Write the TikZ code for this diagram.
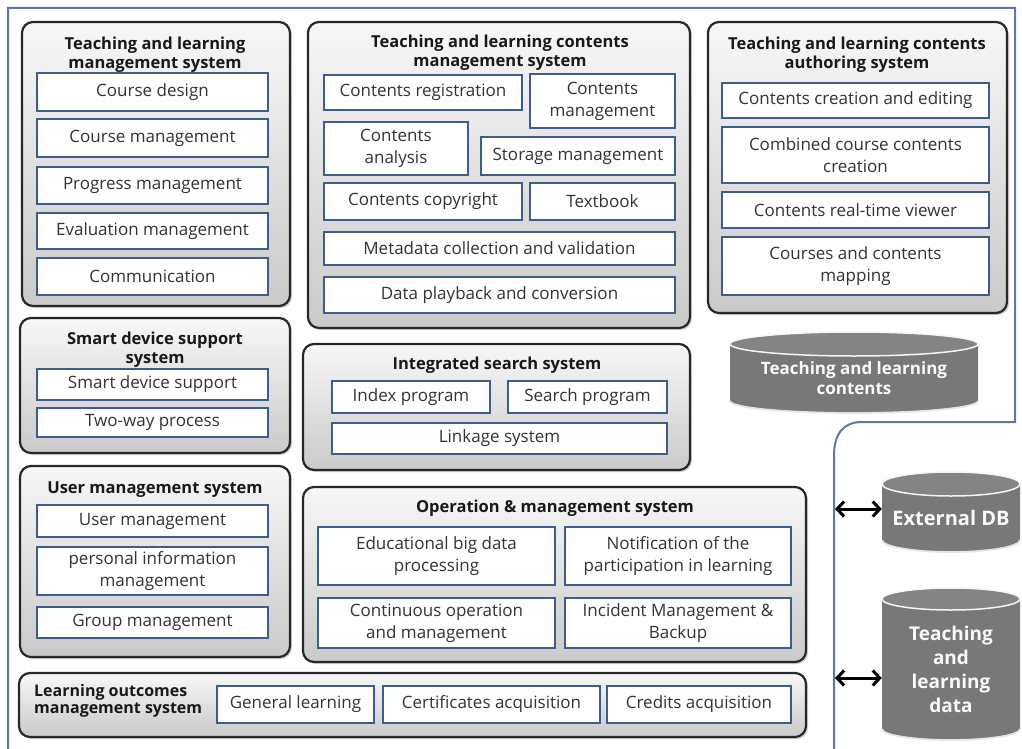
\documentclass[tikz,border=0pt]{standalone}
\usepackage{fontspec}
\setmainfont{Open Sans}
\usetikzlibrary{shadows,arrows.meta}
\definecolor{frameblue}{RGB}{92,122,162}
\definecolor{boxblue}{RGB}{62,92,140}
\definecolor{panelrim}{RGB}{40,40,40}
\definecolor{drumbody}{RGB}{120,120,120}
\definecolor{drumtop}{RGB}{132,132,132}
\tikzset{
  panel/.style={draw=panelrim, line width=2.2pt, rounded corners=11pt,
    top color=gray!6, middle color=gray!14, bottom color=gray!42,
    drop shadow={opacity=0.35, shadow xshift=2pt, shadow yshift=-2pt},
    inner sep=0pt},
  ptitle/.style={font=\bfseries\fontsize{16.5}{19}\selectfont, align=center,
    inner sep=0pt, text=black!90},
  ibox/.style={draw=boxblue, line width=1.5pt, fill=white, inner sep=0pt,
    align=center, font=\fontsize{17}{22}\selectfont, text=black!80,
    drop shadow={opacity=0.25, shadow xshift=1.2pt, shadow yshift=-1.2pt}},
  drumtext/.style={font=\bfseries\fontsize{17}{20}\selectfont, text=white!95!gray,
    align=center, inner sep=0pt},
  frame/.style={draw=frameblue, line width=2pt},
  link/.style={line width=3pt,
    {Straight Barb[length=7pt,width=15pt]}-{Straight Barb[length=7pt,width=15pt]}}
}
% item box from its corners: name, x1, y1, x2, y2, text (y measured downwards)
\newcommand\cbox[6]{\node[ibox, minimum width={(#4-#2)*1pt},
  minimum height={(#5-#3)*1pt}] (#1) at ({(#2+#4)/2},{-(#3+#5)/2}) {#6};}
% system panel from its corners
\newcommand\cpanel[5]{\node[panel, minimum width={(#4-#2)*1pt},
  minimum height={(#5-#3)*1pt}] (#1) at ({(#2+#4)/2},{-(#3+#5)/2}) {};}
% database drum: [text options], name, x1, ytop, x2, ybottom, ry, text centre y, text
\newcommand\cdrum[9][]{%
  \fill[drumbody] ({#3},{-(#4+#7)}) -- ({#3},{-(#6-#7)})
    arc[start angle=180, end angle=360, x radius={(#5-#3)/2}, y radius=#7]
    -- ({#5},{-(#4+#7)}) -- cycle;
  \draw[white!80!gray, line width=1.8pt] ({#3},{-(#6-#7)})
    arc[start angle=180, end angle=360, x radius={(#5-#3)/2}, y radius=#7];
  \draw[fill=drumtop, draw=white!92!gray, line width=1.5pt]
    ({(#3+#5)/2},{-(#4+#7)}) ellipse[x radius={(#5-#3)/2}, y radius=#7];
  \node[drumtext, minimum width={(#5-#3)*1pt}, #1] (#2) at ({(#3+#5)/2},{-#8}) {#9};}

\begin{document}
\begin{tikzpicture}[x=1pt, y=1pt]
\useasboundingbox (0,0) rectangle (1022,-749);
\fill[white] (0,0) rectangle (1022,-749);

% outer frame of the platform
\draw[frame] (8,-749) -- (8,-8) -- (1015,-8) -- (1015,-422) -- (862,-422)
  .. controls (843,-422) and (834,-434) .. (834,-456) -- (834,-749);

% panels
\cpanel{tlms}{22}{22}{290}{306}
\cpanel{tlcms}{308}{22}{690}{328}
\cpanel{tlcas}{708}{22}{1007}{313}
\cpanel{sdss}{20}{318}{290}{453}
\cpanel{iss}{303}{344}{690}{470}
\cpanel{ums}{20}{466}{290}{657}
\cpanel{oms}{303}{487}{806}{662}
\cpanel{loms}{19}{673}{806}{737}

% panel titles
\node[ptitle] (t1) at (155,-55) {Teaching and learning\\management system};
\node[ptitle] (t2) at (500,-53) {Teaching and learning contents\\management system};
\node[ptitle] (t3) at (857,-55) {Teaching and learning contents\\authoring system};
\node[ptitle] (t4) at (155,-350) {Smart device support\\system};
\node[ptitle] (t5) at (155,-490) {User management system};
\node[ptitle] (t6) at (497,-365) {Integrated search system};
\node[ptitle] (t7) at (555,-508) {Operation \& management system};
\node[ptitle, align=left, anchor=west, font=\bfseries\fontsize{16}{17}\selectfont]
  (t8) at (34,-701) {Learning outcomes\\management system};

% teaching and learning management system
\cbox{cd}{37}{73}{268}{111}{Course design}
\cbox{cm}{37}{119}{268}{157}{Course management}
\cbox{pm}{37}{167}{268}{204}{Progress management}
\cbox{em}{37}{213}{268}{249}{Evaluation management}
\cbox{co}{37}{258}{268}{295}{Communication}

% contents management system
\cbox{creg}{324}{75}{522}{110}{Contents registration}
\cbox{cman}{530}{74}{675}{128}{Contents\\management}
\cbox{cana}{324}{122}{468}{175}{Contents\\analysis}
\cbox{stor}{481}{137}{675}{175}{Storage management}
\cbox{ccop}{324}{183}{522}{220}{Contents copyright}
\cbox{tbook}{530}{183}{675}{220}{Textbook}
\cbox{meta}{324}{232}{675}{265}{Metadata collection and validation}
\cbox{play}{324}{277}{675}{313}{Data playback and conversion}

% contents authoring system
\cbox{cce}{722}{83}{989}{118}{Contents creation and editing}
\cbox{ccc}{722}{127}{989}{183}{Combined course contents\\creation}
\cbox{crv}{722}{192}{989}{228}{Contents real-time viewer}
\cbox{ccm}{722}{237}{989}{295}{Courses and contents\\mapping}

% smart device support system
\cbox{sds}{37}{369}{268}{400}{Smart device support}
\cbox{twp}{37}{408}{268}{437}{Two-way process}

% user management system
\cbox{um}{37}{505}{268}{537}{User management}
\cbox{pim}{37}{547}{268}{595}{personal information\\management}
\cbox{gm}{37}{607}{268}{638}{Group management}

% integrated search system
\cbox{idx}{332}{381}{490}{413}{Index program}
\cbox{srch}{508}{381}{667}{413}{Search program}
\cbox{lnk}{332}{423}{667}{454}{Linkage system}

% operation and management system
\cbox{ebd}{318}{527}{555}{585}{Educational big data\\processing}
\cbox{npl}{565}{527}{791}{585}{Notification of the\\participation in learning}
\cbox{com}{318}{598}{555}{648}{Continuous operation\\and management}
\cbox{imb}{565}{598}{791}{648}{Incident Management \&\\Backup}

% learning outcomes management system
\cbox{gl}{217}{686}{374}{723}{General learning}
\cbox{ca}{383}{686}{600}{723}{Certificates acquisition}
\cbox{cra}{607}{686}{791}{723}{Credits acquisition}

% databases
\cdrum{tlc}{730}{332}{978}{413}{12}{378}{Teaching and learning\\contents}
\cdrum[font=\bfseries\fontsize{20}{24}\selectfont]{edb}{882}{472}{1020}{552}{12}{518}{External DB}
\cdrum[font=\bfseries\fontsize{19}{24}\selectfont]{tld}{882}{588}{1020}{740}{11}{669}{Teaching\\and\\learning\\data}

% links between the platform and the external stores
\coordinate (p1) at (835,-509);
\coordinate (p2) at (835,-678);
\draw[link] (p1) -- (p1 -| edb.west);
\draw[link] (p2) -- (p2 -| tld.west);
\end{tikzpicture}
\end{document}
